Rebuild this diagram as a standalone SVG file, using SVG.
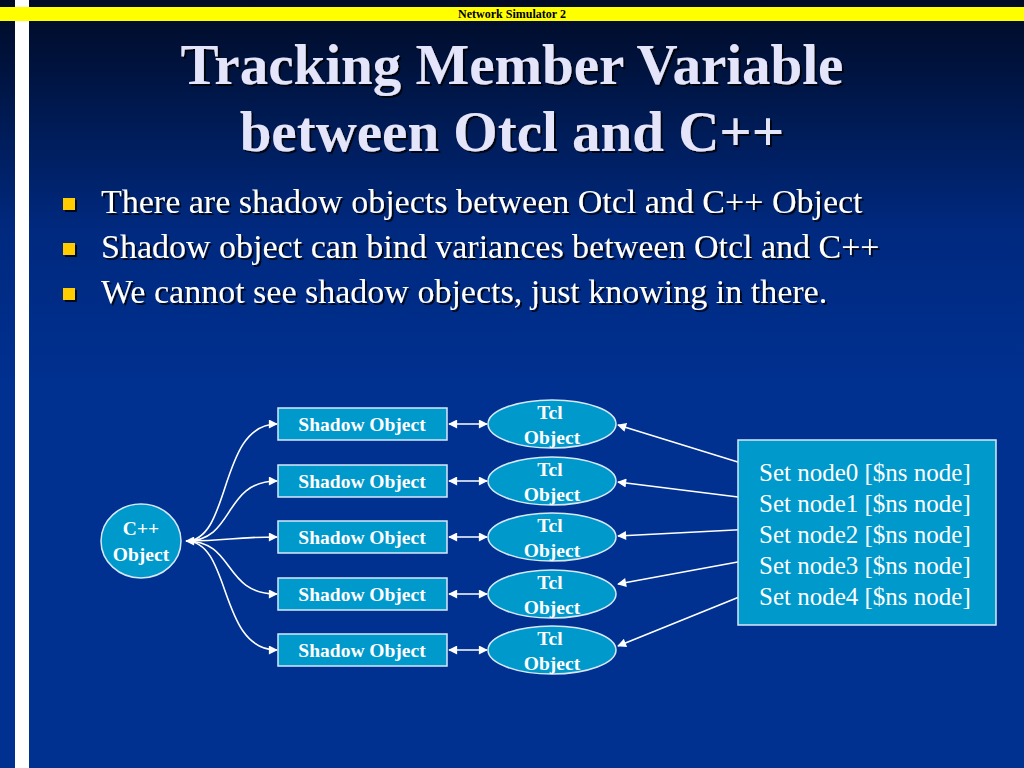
<svg xmlns="http://www.w3.org/2000/svg" width="1024" height="768" viewBox="0 0 1024 768">
<defs>
<linearGradient id="bg" x1="0" y1="0" x2="0" y2="1">
<stop offset="0" stop-color="#000a24"/>
<stop offset="0.3" stop-color="#00297f"/>
<stop offset="0.5" stop-color="#003090"/>
<stop offset="1" stop-color="#003090"/>
</linearGradient>
<marker id="ah" viewBox="0 0 10 10" refX="9" refY="5" markerWidth="10" markerHeight="9" markerUnits="userSpaceOnUse" orient="auto-start-reverse">
<path d="M0,0 L10,5 L0,10 z" fill="#ffffff"/>
</marker>
<filter id="sh" x="-5%" y="-20%" width="110%" height="140%">
<feDropShadow dx="2" dy="2" stdDeviation="0.6" flood-color="#000000" flood-opacity="0.8"/>
</filter>
</defs>
<style>
.title{font-family:"Liberation Serif",serif;font-weight:bold;font-size:57px;fill:#e4e4fa;text-anchor:middle}
.bul{font-family:"Liberation Serif",serif;font-size:34px;fill:#ffffff}
.bx{fill:#0099cc;stroke:#d8e8f8;stroke-width:1.5}
.lbl{font-family:"Liberation Serif",serif;font-weight:bold;font-size:19.5px;fill:#ffffff;text-anchor:middle}
.set{font-family:"Liberation Serif",serif;font-size:25px;fill:#ffffff}
.con{fill:none;stroke:#ffffff;stroke-width:1.6}
</style>
<rect x="0" y="0" width="1024" height="768" fill="url(#bg)"/>
<rect x="15" y="0" width="14" height="768" fill="#ffffff"/>
<rect x="0" y="7" width="1024" height="14" fill="#ffff00"/>
<text x="512" y="18" font-family="Liberation Serif, serif" font-weight="bold" font-size="12" text-anchor="middle" fill="#000000">Network Simulator 2</text>
<g filter="url(#sh)">
<text class="title" x="512" y="84">Tracking Member Variable</text>
<text class="title" x="512" y="151">between Otcl and C++</text>
</g>
<g filter="url(#sh)">
<rect x="63" y="198" width="12" height="12" fill="#ffcc00"/>
<rect x="63" y="243" width="12" height="12" fill="#ffcc00"/>
<rect x="63" y="288" width="12" height="12" fill="#ffcc00"/>
<text class="bul" x="101" y="213">There are shadow objects between Otcl and C++ Object</text>
<text class="bul" x="101" y="258">Shadow object can bind variances between Otcl and C++</text>
<text class="bul" x="101" y="303">We cannot see shadow objects, just knowing in there.</text>
</g>
<g id="connectors">
<path class="con" d="M186,541 C232,541 218,424 277,424" marker-end="url(#ah)" marker-start="url(#ah)"/>
<path class="con" d="M186,541 C236,541 222,481 277,481" marker-end="url(#ah)"/>
<path class="con" d="M186,541 C230,541 230,537 277,537" marker-end="url(#ah)"/>
<path class="con" d="M186,541 C236,541 222,594 277,594" marker-end="url(#ah)"/>
<path class="con" d="M186,541 C232,541 218,650 277,650" marker-end="url(#ah)"/>
<path class="con" d="M449,424 L487,424" marker-end="url(#ah)" marker-start="url(#ah)"/>
<path class="con" d="M449,481 L487,481" marker-end="url(#ah)" marker-start="url(#ah)"/>
<path class="con" d="M449,537 L487,537" marker-end="url(#ah)" marker-start="url(#ah)"/>
<path class="con" d="M449,594 L487,594" marker-end="url(#ah)" marker-start="url(#ah)"/>
<path class="con" d="M449,650 L487,650" marker-end="url(#ah)" marker-start="url(#ah)"/>
<path class="con" d="M754,467 L618,425" marker-end="url(#ah)"/>
<path class="con" d="M754,499 L618,482" marker-end="url(#ah)"/>
<path class="con" d="M754,529 L618,536" marker-end="url(#ah)"/>
<path class="con" d="M754,559 L618,584" marker-end="url(#ah)"/>
<path class="con" d="M754,591 L618,646" marker-end="url(#ah)"/>
</g>
<g id="cpp">
<ellipse class="bx" cx="141" cy="541" rx="40" ry="37"/>
<text class="lbl" x="141" y="535">C++</text>
<text class="lbl" x="141" y="561">Object</text>
</g>
<g id="shadow0"><rect class="bx" x="278" y="408" width="169" height="32"/><text class="lbl" x="362" y="431">Shadow Object</text></g>
<g id="shadow1"><rect class="bx" x="278" y="465" width="169" height="32"/><text class="lbl" x="362" y="488">Shadow Object</text></g>
<g id="shadow2"><rect class="bx" x="278" y="521" width="169" height="32"/><text class="lbl" x="362" y="544">Shadow Object</text></g>
<g id="shadow3"><rect class="bx" x="278" y="578" width="169" height="32"/><text class="lbl" x="362" y="601">Shadow Object</text></g>
<g id="shadow4"><rect class="bx" x="278" y="634" width="169" height="32"/><text class="lbl" x="362" y="657">Shadow Object</text></g>
<g id="tcl0"><ellipse class="bx" cx="552" cy="424" rx="64" ry="24"/><text class="lbl" x="550" y="419">Tcl</text><text class="lbl" x="552" y="444">Object</text></g>
<g id="tcl1"><ellipse class="bx" cx="552" cy="481" rx="64" ry="24"/><text class="lbl" x="550" y="476">Tcl</text><text class="lbl" x="552" y="501">Object</text></g>
<g id="tcl2"><ellipse class="bx" cx="552" cy="537" rx="64" ry="24"/><text class="lbl" x="550" y="532">Tcl</text><text class="lbl" x="552" y="557">Object</text></g>
<g id="tcl3"><ellipse class="bx" cx="552" cy="594" rx="64" ry="24"/><text class="lbl" x="550" y="589">Tcl</text><text class="lbl" x="552" y="614">Object</text></g>
<g id="tcl4"><ellipse class="bx" cx="552" cy="650" rx="64" ry="24"/><text class="lbl" x="550" y="645">Tcl</text><text class="lbl" x="552" y="670">Object</text></g>
<g id="setbox">
<rect class="bx" x="738" y="440" width="258" height="185"/>
<text class="set" x="759" y="481">Set node0 [$ns node]</text>
<text class="set" x="759" y="512">Set node1 [$ns node]</text>
<text class="set" x="759" y="543">Set node2 [$ns node]</text>
<text class="set" x="759" y="574">Set node3 [$ns node]</text>
<text class="set" x="759" y="605">Set node4 [$ns node]</text>
</g>
</svg>
